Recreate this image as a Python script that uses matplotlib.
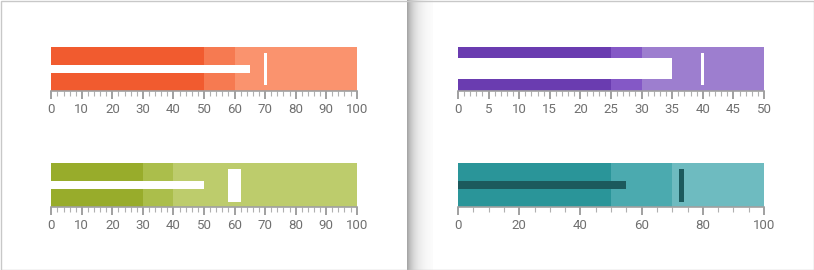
import numpy as np
import matplotlib
matplotlib.use('Agg')
import matplotlib.pyplot as plt
from matplotlib.patches import Rectangle
from matplotlib.ticker import MultipleLocator

plt.rcParams['font.family'] = ['Roboto', 'DejaVu Sans']

# Data for the four bullet charts
orange_bands = [50, 60, 100]
orange_value = 65
orange_target = 70

purple_bands = [25, 30, 50]
purple_value = 35
purple_target = 40

green_bands = [30, 40, 100]
green_value = 50
green_target = 60

teal_bands = [50, 70, 100]
teal_value = 55
teal_target = 73

W, H = 814, 270
fig = plt.figure(figsize=(W / 100, H / 100), dpi=100)
fig.patch.set_facecolor('white')

# background: border + shadow of right panel
bg = fig.add_axes([0, 0, 1, 1], zorder=-10)
bg.set_xlim(0, W)
bg.set_ylim(H, 0)
bg.axis('off')
xs = np.linspace(0, 1, 60)
shade = 1 - 0.36 * np.exp(-xs * 3.2)
grad = np.tile(shade, (2, 1))
bg.imshow(grad, cmap='gray', vmin=0, vmax=1, extent=[407, 433, H, 0], aspect='auto')
bg.add_patch(Rectangle((0.5, 0.5), W - 1, H - 1, fill=False, edgecolor='#c8c8c8', lw=1))


def px_axes(x0, x1, ytop, ybot):
    return fig.add_axes([x0 / W, (H - ybot) / H, (x1 - x0) / W, (ybot - ytop) / H])


def bullet(ax, bands, colors, vmax, value, vh, vcolor, target, tw, tlo, thi, tcolor,
           major, minor):
    left = 0
    for b, c in zip(bands, colors):
        ax.barh(0.5, b - left, height=1, left=left, color=c, edgecolor=c, lw=0)
        left = b
    ax.barh(0.5, value, height=vh, left=0, color=vcolor, lw=0)
    ax.bar(target, thi - tlo, width=tw, bottom=tlo, color=tcolor, lw=0)
    ax.set_xlim(0, vmax)
    ax.set_ylim(0, 1)
    ax.set_yticks([])
    for s in ['top', 'left', 'right']:
        ax.spines[s].set_visible(False)
    ax.spines['bottom'].set_color('#a0a0a0')
    ax.spines['bottom'].set_linewidth(1.2)
    ax.xaxis.set_major_locator(MultipleLocator(major))
    ax.xaxis.set_minor_locator(MultipleLocator(minor))
    ax.tick_params(axis='x', which='major', length=6, width=1.4, color='#a0a0a0',
                   labelsize=9.5, labelcolor='#707070', pad=2.5)
    ax.tick_params(axis='x', which='minor', length=3.5, width=0.8, color='#b0b0b0')


ax1 = px_axes(51.3, 356.7, 46.7, 90.7)
bullet(ax1, orange_bands, ['#F15B2F', '#F67A51', '#FA936E'], 100,
       orange_value, 0.18, 'white', orange_target, 1.0, 0.13, 0.865, 'white', 10, 2)

ax2 = px_axes(458, 764, 46.7, 90.7)
bullet(ax2, purple_bands, ['#6A3CB0', '#8458C6', '#9D7ECF'], 50,
       purple_value, 0.48, 'white', purple_target, 0.5, 0.13, 0.865, 'white', 5, 1)

ax3 = px_axes(51.3, 356.7, 163.3, 206.7)
bullet(ax3, green_bands, ['#98AC2B', '#ABBE4B', '#BDCC6C'], 100,
       green_value, 0.19, 'white', green_target, 4, 0.115, 0.87, 'white', 10, 2)

ax4 = px_axes(458, 764, 163.3, 206.7)
bullet(ax4, teal_bands, ['#2A9599', '#4BAAAF', '#6EBBC0'], 100,
       teal_value, 0.19, '#1C5A5D', teal_target, 1.4, 0.115, 0.87, '#1C5A5D', 20, 5)

fig.savefig('out.png', dpi=100, facecolor='white')
